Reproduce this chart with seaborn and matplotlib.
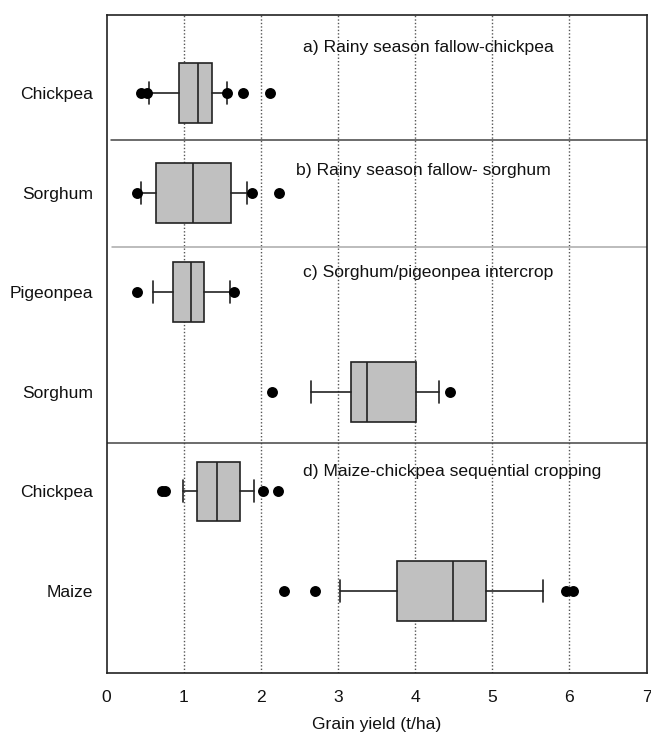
import matplotlib
matplotlib.use("Agg")
import matplotlib.pyplot as plt
import numpy as np
import pandas as pd
import seaborn as sns

# Crop rows, top to bottom
crops = ["Chickpea", "Sorghum", "Pigeonpea", "Sorghum", "Chickpea", "Maize"]

# Box-plot summary statistics (t/ha) for each row
whisker_low = [0.55, 0.44, 0.60, 2.65, 0.99, 3.02]
q1 = [0.94, 0.64, 0.86, 3.17, 1.17, 3.77]
median = [1.19, 1.12, 1.09, 3.37, 1.43, 4.49]
q3 = [1.36, 1.61, 1.26, 4.01, 1.73, 4.92]
whisker_high = [1.56, 1.82, 1.60, 4.31, 1.91, 5.66]

# Individual points beyond the whiskers
outliers = [
    [0.45, 0.52, 1.56, 1.77, 2.12],
    [0.39, 1.88, 2.24],
    [0.39, 1.65],
    [2.15, 4.45],
    [0.72, 0.76, 2.03, 2.22],
    [2.30, 2.70, 5.95, 6.05],
]

# Cropping-system panels
panel_titles = [
    "a) Rainy season fallow-chickpea",
    "b) Rainy season fallow- sorghum",
    "c) Sorghum/pigeonpea intercrop",
    "d) Maize-chickpea sequential cropping",
]

x_ticks = [0, 1, 2, 3, 4, 5, 6, 7]

sns.set_style("white")
plt.rcParams["font.family"] = ["Liberation Sans", "DejaVu Sans"]

FS = 12.6
INK = "#111111"

fig = plt.figure(figsize=(6.51, 7.39), dpi=100)
ax = fig.add_axes([0.1638, 0.0893, 0.8294, 0.8909])

positions = np.arange(len(crops))

stats = [
    dict(med=m, q1=a, q3=b, whislo=lo, whishi=hi, fliers=[])
    for m, a, b, lo, hi in zip(median, q1, q3, whisker_low, whisker_high)
]
ax.bxp(
    stats,
    positions=positions,
    vert=False,
    widths=0.6,
    capwidths=0.22,
    patch_artist=True,
    showfliers=False,
    boxprops=dict(facecolor="#c0c0c0", edgecolor="#222222", linewidth=1.2),
    medianprops=dict(color="#222222", linewidth=1.2),
    whiskerprops=dict(color="#222222", linewidth=1.2),
    capprops=dict(color="#222222", linewidth=1.2),
    zorder=3,
)

# Outlying observations
out_df = pd.DataFrame(
    [(v, i) for i, vals in enumerate(outliers) for v in vals],
    columns=["yield", "row"],
)
sns.scatterplot(
    data=out_df, x="yield", y="row", ax=ax, color="black",
    s=62, edgecolor="black", linewidth=0, zorder=4, legend=False,
)

# Dotted reference lines at each whole t/ha
for xv in x_ticks[1:-1]:
    ax.axvline(xv, color="#555555", linestyle=(0, (1, 1.5)), linewidth=1.0, zorder=1)

# Separators between cropping systems
ax.axhline(0.47, xmin=0.008, color="#444444", linewidth=1.1, zorder=2)
ax.axhline(1.55, xmin=0.010, color="#aaaaaa", linewidth=1.1, zorder=2)
ax.axhline(3.51, color="#444444", linewidth=1.1, zorder=2)

# Panel titles
title_y = [-0.46, 0.78, 1.80, 3.80]
title_x = [2.55, 2.45, 2.54, 2.54]
for t, tx, ty in zip(panel_titles, title_x, title_y):
    ax.text(tx, ty, t, fontsize=FS, va="center", ha="left", color=INK, zorder=5)

ax.set_xlim(0, 7)
ax.set_ylim(5.823, -0.787)
ax.set_xticks(x_ticks)
ax.set_xticklabels([str(v) for v in x_ticks], fontsize=FS)
ax.set_yticks(positions)
ax.set_yticklabels(crops, fontsize=FS)
ax.set_xlabel("Grain yield (t/ha)", fontsize=FS, labelpad=9, color=INK)
ax.set_ylabel("")
ax.tick_params(axis="both", direction="out", length=4, width=1.1, color="#222222",
               labelcolor=INK, pad=8)
ax.tick_params(axis="y", pad=6)
for sp in ax.spines.values():
    sp.set_visible(True)
    sp.set_color("#222222")
    sp.set_linewidth(1.2)

fig.savefig("out.png", dpi=100)
